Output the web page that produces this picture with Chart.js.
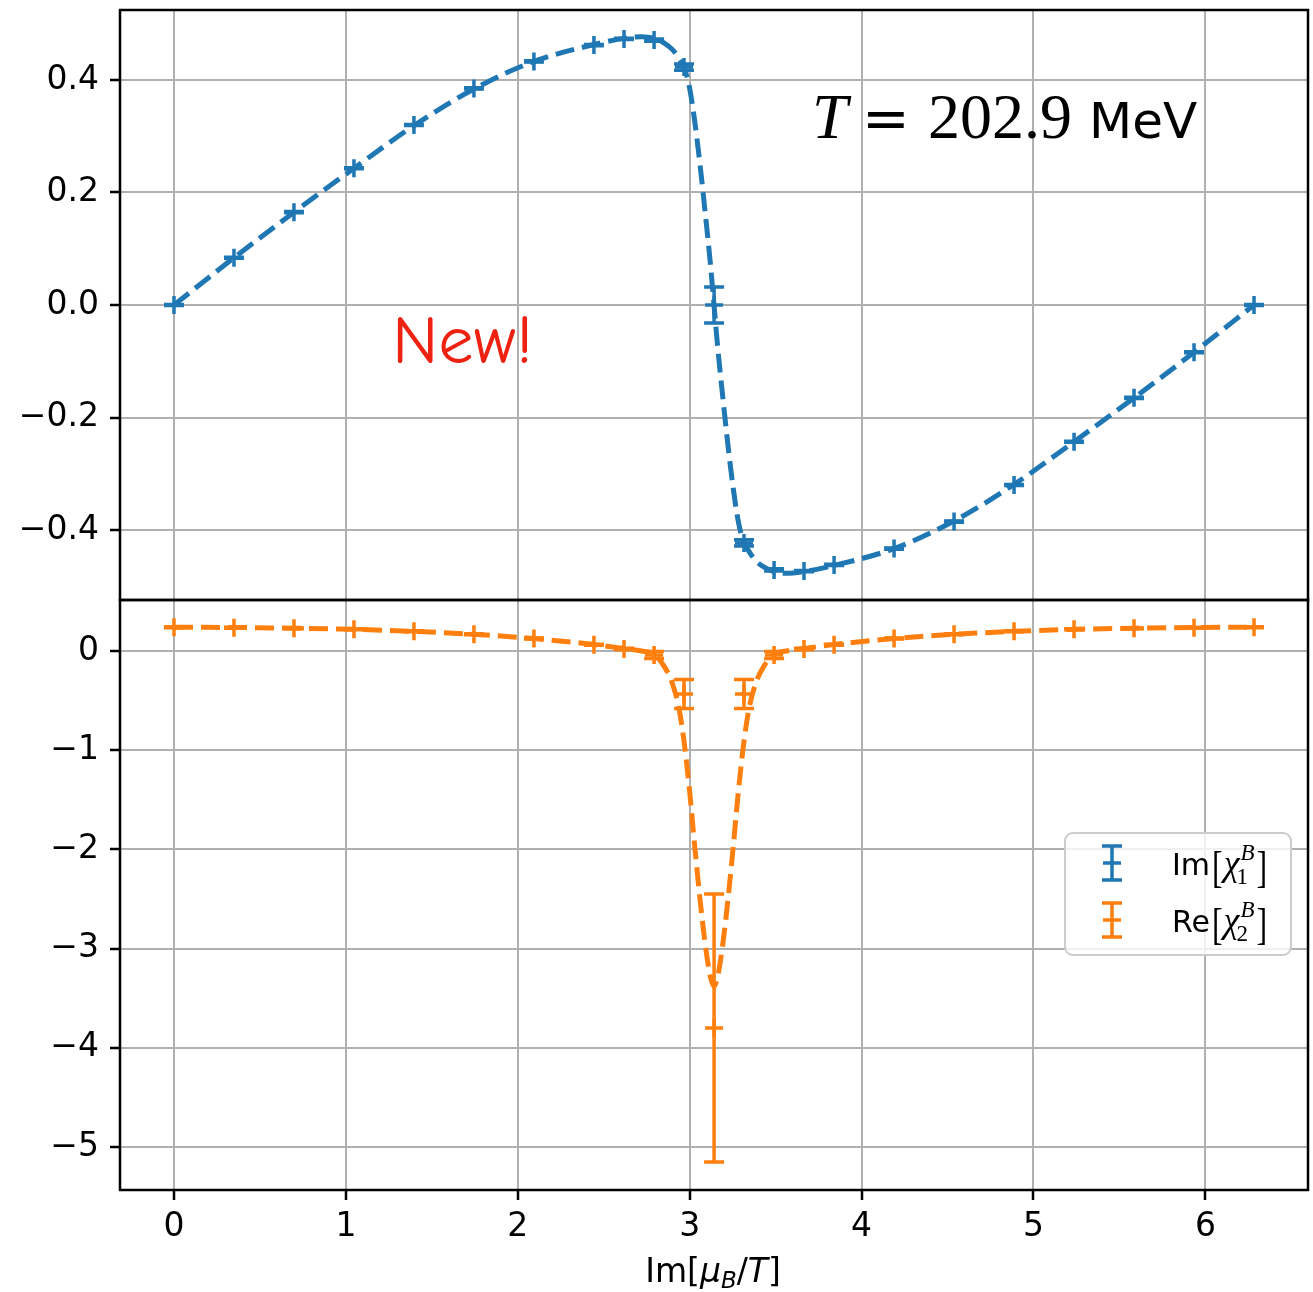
<!DOCTYPE html>
<html>
<head>
<meta charset="utf-8">
<script src="https://cdn.jsdelivr.net/npm/chart.js@4.4.0/dist/chart.umd.min.js"></script>
<style>
  html, body { margin: 0; padding: 0; background: #fff; overflow: hidden; }
  canvas { display: block; }
</style>
</head>
<body>
<canvas id="chi-chart" width="1313" height="1292"></canvas>
<script>
// lattice points in Im[mu_B/T]
const muI = [0, 0.349, 0.698, 1.047, 1.396, 1.745, 2.094, 2.443, 2.618, 2.793, 2.967, 3.142,
             3.316, 3.491, 3.665, 3.840, 4.189, 4.538, 4.887, 5.236, 5.585, 5.934, 6.283];
const imChi1 = [0, 0.084, 0.165, 0.243, 0.32, 0.385, 0.433, 0.462, 0.473, 0.471, 0.423, 0.0,
                -0.423, -0.471, -0.473, -0.462, -0.433, -0.385, -0.32, -0.243, -0.165, -0.084, 0];
const imChi1Err = [0.001, 0.001, 0.001, 0.001, 0.001, 0.001, 0.001, 0.001, 0.001, 0.002, 0.0055, 0.032,
                   0.0055, 0.002, 0.001, 0.001, 0.001, 0.001, 0.001, 0.001, 0.001, 0.001, 0.001];
const reChi2 = [0.24, 0.235, 0.228, 0.218, 0.198, 0.168, 0.125, 0.062, 0.02, -0.04, -0.434, -3.8,
                -0.434, -0.04, 0.02, 0.062, 0.125, 0.168, 0.198, 0.218, 0.228, 0.235, 0.24];
const reChi2Err = [0.005, 0.005, 0.005, 0.005, 0.005, 0.005, 0.005, 0.005, 0.008, 0.035, 0.146, 1.35,
                   0.146, 0.035, 0.008, 0.005, 0.005, 0.005, 0.005, 0.005, 0.005, 0.005, 0.005];

// fitted curves
const fitX = [0, 0.349, 0.698, 1.047, 1.396, 1.745, 2.094, 2.443, 2.618, 2.72, 2.793, 2.85, 2.90, 2.94,
              2.97, 3.00, 3.03, 3.06, 3.09, 3.12, 3.1416, 3.163, 3.193, 3.223, 3.253, 3.283, 3.313,
              3.343, 3.383, 3.433, 3.49, 3.563, 3.665, 3.840, 4.189, 4.538, 4.887, 5.236, 5.585, 5.934, 6.283];
const imChi1Fit = [0, 0.084, 0.165, 0.243, 0.319, 0.384, 0.433, 0.463, 0.474, 0.477, 0.474, 0.466, 0.454, 0.437,
                   0.420, 0.385, 0.325, 0.25, 0.165, 0.075, 0, -0.075, -0.165, -0.25, -0.325, -0.385, -0.420,
                   -0.437, -0.454, -0.466, -0.474, -0.477, -0.474, -0.463, -0.433, -0.384, -0.319, -0.243, -0.165, -0.084, 0];
const reChi2Fit = [0.24, 0.237, 0.23, 0.218, 0.198, 0.168, 0.125, 0.065, 0.025, 0.0, -0.035, -0.15, -0.33, -0.6,
                   -0.95, -1.42, -1.98, -2.5, -2.95, -3.28, -3.38, -3.28, -2.95, -2.5, -1.98, -1.42, -0.95,
                   -0.6, -0.33, -0.15, -0.035, 0.0, 0.025, 0.065, 0.125, 0.168, 0.198, 0.218, 0.23, 0.237, 0.24];

const xTicks = [0, 1, 2, 3, 4, 5, 6];
const xTickLabels = ['0', '1', '2', '3', '4', '5', '6'];
const topTicks = [0.4, 0.2, 0.0, -0.2, -0.4];
const topTickLabels = ['0.4', '0.2', '0.0', '\u22120.2', '\u22120.4'];
const bottomTicks = [0, -1, -2, -3, -4, -5];
const bottomTickLabels = ['0', '\u22121', '\u22122', '\u22123', '\u22124', '\u22125'];

const BLUE = '#1f77b4';
const ORANGE = '#ff7f0e';
const SANS = '"DejaVu Sans"';
const SERIF = '"Liberation Serif"';

const toPoints = (xs, ys) => xs.map((x, i) => ({ x: x, y: ys[i] }));

// vertical error bars with caps
const errorBars = {
  id: 'errorBars',
  afterDatasetsDraw(chart) {
    const ctx = chart.ctx;
    chart.data.datasets.forEach((ds, i) => {
      if (!ds.yErr) return;
      const xs = chart.scales.x;
      const ys = chart.scales[ds.yAxisID];
      ctx.save();
      ctx.strokeStyle = ds.borderColor;
      ctx.lineWidth = 3.5;
      ds.data.forEach((p, j) => {
        const px = xs.getPixelForValue(p.x);
        const top = ys.getPixelForValue(p.y + ds.yErr[j]);
        const bot = ys.getPixelForValue(p.y - ds.yErr[j]);
        ctx.beginPath();
        ctx.moveTo(px, top); ctx.lineTo(px, bot);
        ctx.moveTo(px - 10, top); ctx.lineTo(px + 10, top);
        ctx.moveTo(px - 10, bot); ctx.lineTo(px + 10, bot);
        ctx.stroke();
      });
      ctx.restore();
    });
  }
};

// black frame round each panel
const panelFrames = {
  id: 'panelFrames',
  beforeDatasetsDraw(chart) {
    const ctx = chart.ctx;
    const a = chart.chartArea;
    ctx.save();
    ctx.strokeStyle = '#000';
    ctx.lineWidth = 2.5;
    ['y', 'y2'].forEach(id => {
      const s = chart.scales[id];
      ctx.strokeRect(a.left, s.top, a.right - a.left, s.bottom - s.top);
    });
    ctx.restore();
  }
};

// draw a run of text pieces: [text, font, dy]
function runWidth(ctx, runs) {
  let w = 0;
  runs.forEach(r => { ctx.font = r[1]; w += ctx.measureText(r[0]).width; });
  return w;
}
function drawRuns(ctx, runs, x, y) {
  let cx = x;
  runs.forEach(r => {
    ctx.font = r[1];
    ctx.fillText(r[0], cx, y + (r[2] || 0));
    cx += ctx.measureText(r[0]).width;
  });
  return cx;
}

// tall bracket for the legend labels
function drawBracket(ctx, ch, x, y) {
  ctx.save();
  ctx.font = '32px ' + SERIF;
  ctx.translate(x, y + 7);
  ctx.scale(1, 1.4);
  ctx.fillText(ch, 0, 0);
  const w = ctx.measureText(ch).width;
  ctx.restore();
  return w;
}

// chi label: name[chi_n^B]
function drawChiLabel(ctx, name, n, x, y) {
  ctx.fillStyle = '#000';
  let cx = drawRuns(ctx, [[name, '30px ' + SANS]], x, y);
  cx += 2;
  cx += drawBracket(ctx, '[', cx, y) + 1;
  ctx.font = 'italic 36px ' + SERIF;
  ctx.fillText('\u03c7', cx, y);
  cx += ctx.measureText('\u03c7').width;
  ctx.font = '23px ' + SERIF;
  ctx.fillText(n, cx - 3, y + 9);
  const sw = ctx.measureText(n).width;
  ctx.font = 'italic 23px ' + SERIF;
  ctx.fillText('B', cx + 1, y - 15);
  cx += Math.max(sw, ctx.measureText('B').width) + 3;
  drawBracket(ctx, ']', cx, y);
}

const annotations = {
  id: 'annotations',
  afterDraw(chart) {
    const ctx = chart.ctx;
    ctx.save();
    ctx.textBaseline = 'alphabetic';
    ctx.textAlign = 'left';

    // temperature label
    ctx.fillStyle = '#000';
    ctx.font = 'italic 64px ' + SERIF;
    ctx.fillText('T', 812, 138);
    ctx.font = '57px ' + SANS;
    ctx.fillText('=', 862, 138);
    ctx.font = '64px ' + SERIF;
    ctx.fillText('202.9', 928, 138);
    ctx.font = '50px ' + SANS;
    ctx.fillText('MeV', 1089, 138);

    // New!
    ctx.save();
    ctx.fillStyle = '#ee2211';
    ctx.font = '68px "Comic Sans MS", "Comic Neue", ' + SANS;
    const nw = ctx.measureText('New!').width;
    ctx.translate(392, 363);
    ctx.scale(141 / nw, 1);
    ctx.fillText('New!', 0, 0);
    ctx.restore();

    // legend box
    const lx = 1065, ly = 833, lw = 226, lh = 122;
    ctx.beginPath();
    ctx.roundRect(lx, ly, lw, lh, 8);
    ctx.fillStyle = 'rgba(255,255,255,0.8)';
    ctx.fill();
    ctx.strokeStyle = '#cccccc';
    ctx.lineWidth = 2;
    ctx.stroke();
    [[BLUE, 'Im', '1', 863], [ORANGE, 'Re', '2', 920]].forEach(e => {
      const sx = 1112, cy = e[3];
      ctx.strokeStyle = e[0];
      ctx.lineWidth = 3.5;
      ctx.beginPath();
      ctx.moveTo(sx, cy - 17); ctx.lineTo(sx, cy + 17);
      ctx.moveTo(sx - 10, cy - 17); ctx.lineTo(sx + 10, cy - 17);
      ctx.moveTo(sx - 10, cy + 17); ctx.lineTo(sx + 10, cy + 17);
      ctx.moveTo(sx - 9, cy); ctx.lineTo(sx + 9, cy);
      ctx.stroke();
      drawChiLabel(ctx, e[1], e[2], 1172, cy + 12);
    });

    // x axis title Im[mu_B/T]
    ctx.fillStyle = '#000';
    const runs = [
      ['Im[', '33px ' + SANS],
      ['\u03bc', 'italic 33px ' + SANS],
      ['B', 'italic 23px ' + SANS, 6],
      ['/', '33px ' + SANS],
      ['T', 'italic 33px ' + SANS],
      [']', '33px ' + SANS]
    ];
    const tw = runWidth(ctx, runs);
    drawRuns(ctx, runs, 713 - tw / 2, 1282);
    ctx.restore();
  }
};

const gridOpts = {
  color: '#b0b0b0',
  lineWidth: 2,
  drawTicks: true,
  tickLength: 10,
  tickColor: '#000',
  tickWidth: 2.5
};
const tickFont = { family: 'DejaVu Sans', size: 33 };

// no extra room for edge labels; the frame sits at fixed offsets
function noPadding(s) {
  s.paddingTop = 0;
  s.paddingBottom = 0;
  s.paddingLeft = 0;
  s.paddingRight = 0;
}

new Chart(document.getElementById('chi-chart'), {
  type: 'scatter',
  data: {
    datasets: [
      {
        label: 'Im fit',
        data: toPoints(fitX, imChi1Fit),
        yAxisID: 'y',
        showLine: true,
        borderColor: BLUE,
        borderWidth: 5,
        borderDash: [19, 8],
        pointRadius: 0,
        cubicInterpolationMode: 'monotone'
      },
      {
        label: 'Re fit',
        data: toPoints(fitX, reChi2Fit),
        yAxisID: 'y2',
        showLine: true,
        borderColor: ORANGE,
        borderWidth: 5,
        borderDash: [19, 8],
        pointRadius: 0,
        cubicInterpolationMode: 'monotone'
      },
      {
        label: 'Im[chi1B]',
        data: toPoints(muI, imChi1),
        yErr: imChi1Err,
        yAxisID: 'y',
        pointStyle: 'cross',
        pointRadius: 9,
        borderWidth: 3.5,
        borderColor: BLUE,
        backgroundColor: BLUE
      },
      {
        label: 'Re[chi2B]',
        data: toPoints(muI, reChi2),
        yErr: reChi2Err,
        yAxisID: 'y2',
        pointStyle: 'cross',
        pointRadius: 9,
        borderWidth: 3.5,
        borderColor: ORANGE,
        backgroundColor: ORANGE
      }
    ]
  },
  options: {
    responsive: false,
    animation: false,
    layout: { autoPadding: false, padding: { top: 10, right: 5, left: 0, bottom: 0 } },
    plugins: { legend: { display: false }, tooltip: { enabled: false } },
    scales: {
      x: {
        type: 'linear',
        min: -0.314,
        max: 6.597,
        afterBuildTicks: s => { s.ticks = xTicks.map(v => ({ value: v })); },
        afterFit: s => { s.height = 102; noPadding(s); },
        ticks: {
          font: tickFont,
          color: '#000',
          padding: 8,
          callback: v => xTickLabels[xTicks.indexOf(v)]
        },
        grid: gridOpts,
        border: { display: false }
      },
      // lower panel: Re[chi2]
      y2: {
        type: 'linear',
        position: 'left',
        stack: 'panels',
        stackWeight: 1,
        min: -5.433,
        max: 0.514,
        afterBuildTicks: s => { s.ticks = bottomTicks.map(v => ({ value: v })); },
        afterFit: s => { s.width = 120; noPadding(s); },
        ticks: {
          font: tickFont,
          color: '#000',
          padding: 11,
          callback: v => bottomTickLabels[bottomTicks.indexOf(v)]
        },
        grid: gridOpts,
        border: { display: false }
      },
      // upper panel: Im[chi1]
      y: {
        type: 'linear',
        position: 'left',
        stack: 'panels',
        stackWeight: 1,
        min: -0.5244,
        max: 0.5244,
        afterBuildTicks: s => { s.ticks = topTicks.map(v => ({ value: v })); },
        afterFit: s => { s.width = 120; noPadding(s); },
        ticks: {
          font: tickFont,
          color: '#000',
          padding: 11,
          callback: v => topTickLabels[topTicks.indexOf(v)]
        },
        grid: gridOpts,
        border: { display: false }
      }
    }
  },
  plugins: [panelFrames, errorBars, annotations]
});
</script>
</body>
</html>
